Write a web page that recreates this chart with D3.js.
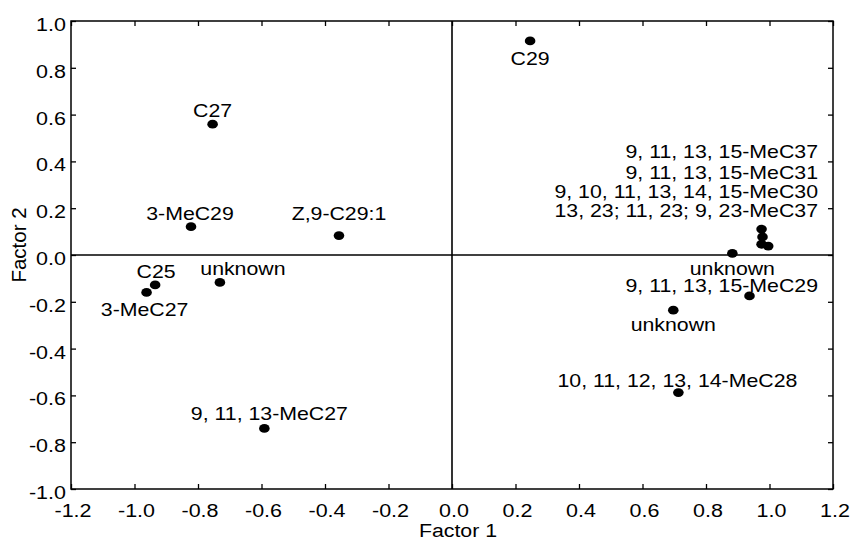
<!DOCTYPE html>
<html>
<head>
<meta charset="utf-8">
<script src="https://cdn.jsdelivr.net/npm/d3@7"></script>
<style>
  html, body { margin: 0; padding: 0; background: #fff; }
  svg { display: block; }
  text { font-family: "Liberation Sans", Arial, Helvetica, sans-serif; fill: #000; }
</style>
</head>
<body>
<svg id="chart" width="853" height="547"></svg>
<script>
// Compound names and their loadings on the two factors
const compounds = [
  "C29", "C27", "3-MeC29", "Z,9-C29:1", "C25", "3-MeC27", "unknown",
  "9, 11, 13-MeC27",
  "9, 11, 13, 15-MeC37", "9, 11, 13, 15-MeC31",
  "9, 10, 11, 13, 14, 15-MeC30", "13, 23; 11, 23; 9, 23-MeC37",
  "unknown", "9, 11, 13, 15-MeC29", "unknown", "10, 11, 12, 13, 14-MeC28"
];
const factor1 = [0.246, -0.754, -0.822, -0.356, -0.935, -0.962, -0.731, -0.591,
                 0.975, 0.978, 0.975, 0.996, 0.883, 0.937, 0.697, 0.713];
const factor2 = [0.915, 0.559, 0.121, 0.083, -0.128, -0.160, -0.117, -0.741,
                 0.111, 0.077, 0.046, 0.038, 0.007, -0.175, -0.236, -0.588];

const xTicks = [-1.2, -1.0, -0.8, -0.6, -0.4, -0.2, 0.0, 0.2, 0.4, 0.6, 0.8, 1.0, 1.2];
const yTicks = [-1.0, -0.8, -0.6, -0.4, -0.2, 0.0, 0.2, 0.4, 0.6, 0.8, 1.0];

// Label placement relative to each point (pixels): anchor, dx, dy to baseline
const labelPlace = [
  ["middle", 0, 24], ["middle", 0, -7], ["middle", -1, -7], ["middle", 0, -16],
  ["middle", 1, -7], ["middle", -2, 24], ["middle", 23, -7], ["middle", 5, -8],
  ["endAt", 818, 158], ["endAt", 818, 179], ["endAt", 818, 198], ["endAt", 818, 217],
  ["middle", 0, 22], ["endAt", 818, 292], ["middle", 0, 21], ["middle", -1, -6]
];

const svg = d3.select("#chart");
const W = 853, H = 547;
const margin = { left: 71, right: W - 833, top: 21, bottom: H - 489 };
const x = d3.scaleLinear().domain([-1.2, 1.2]).range([margin.left, W - margin.right]);
const y = d3.scaleLinear().domain([-1.0, 1.0]).range([H - margin.bottom, margin.top]);

const fmt = v => d3.format(".1f")(v).replace("\u2212", "-");
const tickLen = 5;
const squash = 0.82;      // text is wider than tall
const tickSquash = 0.88;

// Frame
svg.append("rect")
  .attr("x", x(-1.2)).attr("y", y(1.0))
  .attr("width", x(1.2) - x(-1.2)).attr("height", y(-1.0) - y(1.0))
  .attr("fill", "none").attr("stroke", "#000").attr("stroke-width", 1.5);

// Zero reference lines
svg.append("line").attr("x1", x(0)).attr("x2", x(0)).attr("y1", y(1)).attr("y2", y(-1))
  .attr("stroke", "#000").attr("stroke-width", 1.6);
svg.append("line").attr("x1", x(-1.2)).attr("x2", x(1.2)).attr("y1", y(0)).attr("y2", y(0))
  .attr("stroke", "#000").attr("stroke-width", 1.6);

// Axes with inward ticks on all four sides
const axB = d3.axisBottom(x).tickValues(xTicks).tickSize(-tickLen).tickFormat("");
const axT = d3.axisTop(x).tickValues(xTicks).tickSize(-tickLen).tickFormat("");
const axL = d3.axisLeft(y).tickValues(yTicks).tickSize(-tickLen).tickFormat("");
const axR = d3.axisRight(y).tickValues(yTicks).tickSize(-tickLen).tickFormat("");
[[axB, `translate(0,${y(-1)})`], [axT, `translate(0,${y(1)})`],
 [axL, `translate(${x(-1.2)},0)`], [axR, `translate(${x(1.2)},0)`]].forEach(([ax, tr]) => {
  const g = svg.append("g").attr("transform", tr).call(ax);
  g.select(".domain").remove();
  g.selectAll(".tick line").attr("stroke", "#000").attr("stroke-width", 1.3);
});

// Tick labels
svg.append("g").selectAll("text").data(xTicks).join("text")
  .attr("transform", d => `translate(${x(d) + 2},${y(-1) + 28}) scale(1,${tickSquash})`)
  .attr("text-anchor", "middle").attr("font-size", 21.5)
  .text(fmt);
svg.append("g").selectAll("text").data(yTicks).join("text")
  .attr("transform", d => `translate(${x(-1.2) - 5},${y(d) + 10}) scale(1,${tickSquash})`)
  .attr("text-anchor", "end").attr("font-size", 21.5)
  .text(fmt);

// Axis titles
svg.append("text")
  .attr("transform", `translate(458,537) scale(1,${squash})`)
  .attr("text-anchor", "middle").attr("font-size", 21.3)
  .text("Factor 1");
svg.append("text")
  .attr("transform", "translate(26,245) rotate(-90)")
  .attr("text-anchor", "middle").attr("font-size", 20.5)
  .text("Factor 2");

// Points
const pts = compounds.map((name, i) => ({ name, f1: factor1[i], f2: factor2[i], place: labelPlace[i] }));

svg.append("g").selectAll("ellipse").data(pts).join("ellipse")
  .attr("cx", d => x(d.f1)).attr("cy", d => y(d.f2))
  .attr("rx", 5.3).attr("ry", 4.4).attr("fill", "#000");

// Point labels
svg.append("g").selectAll("text").data(pts).join("text")
  .attr("transform", d => {
    const [mode, dx, dy] = d.place;
    if (mode === "endAt") return `translate(${dx},${dy}) scale(1,${squash})`;
    return `translate(${x(d.f1) + dx},${y(d.f2) + dy}) scale(1,${squash})`;
  })
  .attr("text-anchor", d => d.place[0] === "endAt" ? "end" : "middle")
  .attr("font-size", 21.3)
  .text(d => d.name);
</script>
</body>
</html>
